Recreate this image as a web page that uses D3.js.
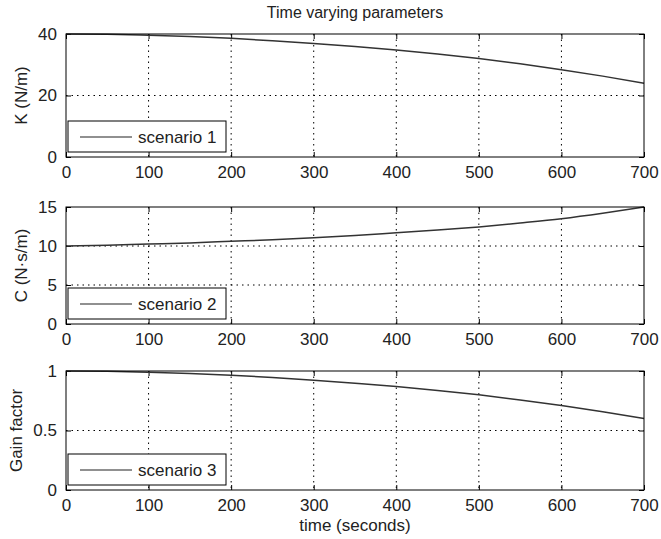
<!DOCTYPE html>
<html>
<head>
<meta charset="utf-8">
<script src="https://cdn.jsdelivr.net/npm/d3@7"></script>
<style>
  html, body { margin: 0; padding: 0; background: #fff; }
  svg text { font-family: "Liberation Sans", Arial, sans-serif; fill: #222; }
</style>
</head>
<body>
<svg id="chart" width="661" height="539"></svg>
<script>
// Sample times (seconds)
const timeSec = [0, 50, 100, 150, 200, 250, 300, 350, 400, 450, 500, 550, 600, 650, 700];
// Spring stiffness K (N/m), scenario 1
const stiffnessK = [40.0, 39.9, 39.6, 39.2, 38.6, 37.8, 36.9, 35.9, 34.8, 33.5, 32.0, 30.3, 28.4, 26.3, 24.0];
// Damping C (N·s/m), scenario 2
const dampingC = [10.0, 10.1, 10.25, 10.4, 10.6, 10.8, 11.05, 11.35, 11.7, 12.05, 12.45, 12.95, 13.5, 14.2, 15.0];
// Gain factor, scenario 3
const gainFactor = [1.0, 0.997, 0.99, 0.98, 0.965, 0.945, 0.922, 0.897, 0.87, 0.837, 0.80, 0.757, 0.71, 0.657, 0.60];

const xTicks = [0, 100, 200, 300, 400, 500, 600, 700];
const kTicks = [0, 20, 40];
const cTicks = [0, 5, 10, 15];
const gTicks = [0, 0.5, 1];

const panels = [
  { values: stiffnessK, domain: [0, 40], ticks: kTicks, ylabel: "K (N/m)", legend: "scenario 1", top: 34, bottom: 157, labelX: 21 },
  { values: dampingC, domain: [0, 15], ticks: cTicks, ylabel: "C (N\u00b7s/m)", legend: "scenario 2", top: 207, bottom: 324, labelX: 21 },
  { values: gainFactor, domain: [0, 1], ticks: gTicks, ylabel: "Gain factor", legend: "scenario 3", top: 371, bottom: 490, labelX: 16 }
];

const svg = d3.select("#chart");
const left = 66, right = 644;
const fontSize = 17;
const tickLen = 5;

const x = d3.scaleLinear().domain([0, 700]).range([left, right]);

svg.append("text")
  .attr("x", (left + right) / 2).attr("y", 18)
  .attr("text-anchor", "middle")
  .style("font-size", "16px")
  .text("Time varying parameters");

panels.forEach((p, i) => {
  const y = d3.scaleLinear().domain(p.domain).range([p.bottom, p.top]);
  const g = svg.append("g");

  // dotted grid
  g.selectAll(".gx").data(xTicks.slice(1, -1)).join("line")
    .attr("x1", d => x(d)).attr("x2", d => x(d))
    .attr("y1", p.top).attr("y2", p.bottom)
    .attr("stroke", "#000").attr("stroke-width", 1)
    .attr("stroke-dasharray", "1.5,4");
  g.selectAll(".gy").data(p.ticks.slice(1, -1)).join("line")
    .attr("x1", left).attr("x2", right)
    .attr("y1", d => y(d)).attr("y2", d => y(d))
    .attr("stroke", "#000").attr("stroke-width", 1)
    .attr("stroke-dasharray", "1.5,4");

  // axes with inward ticks
  const xb = d3.axisBottom(x).tickValues(xTicks).tickSizeInner(-tickLen).tickSizeOuter(0).tickPadding(tickLen + 4);
  const xt = d3.axisTop(x).tickValues(xTicks).tickSizeInner(-tickLen).tickSizeOuter(0).tickFormat("");
  const yl = d3.axisLeft(y).tickValues(p.ticks).tickSizeInner(-tickLen).tickSizeOuter(0).tickPadding(tickLen + 4).tickFormat(d3.format("~g"));
  const yr = d3.axisRight(y).tickValues(p.ticks).tickSizeInner(-tickLen).tickSizeOuter(0).tickFormat("");

  const axes = [
    g.append("g").attr("transform", `translate(0,${p.bottom})`).call(xb),
    g.append("g").attr("transform", `translate(0,${p.top})`).call(xt),
    g.append("g").attr("transform", `translate(${left},0)`).call(yl),
    g.append("g").attr("transform", `translate(${right},0)`).call(yr)
  ];
  axes.forEach(a => {
    a.select(".domain").remove();
    a.selectAll("line").attr("stroke", "#000");
    a.selectAll("text").style("font-size", fontSize + "px")
      .style("font-family", "'Liberation Sans', Arial, sans-serif").attr("fill", "#222");
  });

  // data line
  const line = d3.line().curve(d3.curveMonotoneX)
    .x((d, j) => x(timeSec[j])).y(d => y(d));
  g.append("path").datum(p.values)
    .attr("d", line)
    .attr("fill", "none").attr("stroke", "#333").attr("stroke-width", 1.5);

  // box
  g.append("rect")
    .attr("x", left).attr("y", p.top)
    .attr("width", right - left).attr("height", p.bottom - p.top)
    .attr("fill", "none").attr("stroke", "#000").attr("stroke-width", 1);

  // legend
  const lg = g.append("g").attr("transform", `translate(${left + 2},${p.bottom - 36})`);
  lg.append("rect").attr("x", 0).attr("y", 0).attr("width", 158).attr("height", 31)
    .attr("fill", "#fff").attr("stroke", "#000").attr("stroke-width", 1);
  lg.append("line").attr("x1", 12).attr("x2", 64).attr("y1", 16).attr("y2", 16)
    .attr("stroke", "#222").attr("stroke-width", 1.2);
  lg.append("text").attr("x", 70).attr("y", 22)
    .style("font-size", fontSize + "px").text(p.legend);

  // y label
  svg.append("text")
    .attr("transform", `translate(${p.labelX},${(p.top + p.bottom) / 2}) rotate(-90)`)
    .attr("text-anchor", "middle")
    .attr("dy", "0.35em")
    .style("font-size", fontSize + "px")
    .text(p.ylabel);
});

svg.append("text")
  .attr("x", (left + right) / 2).attr("y", 531)
  .attr("text-anchor", "middle")
  .style("font-size", fontSize + "px")
  .text("time (seconds)");
</script>
</body>
</html>
